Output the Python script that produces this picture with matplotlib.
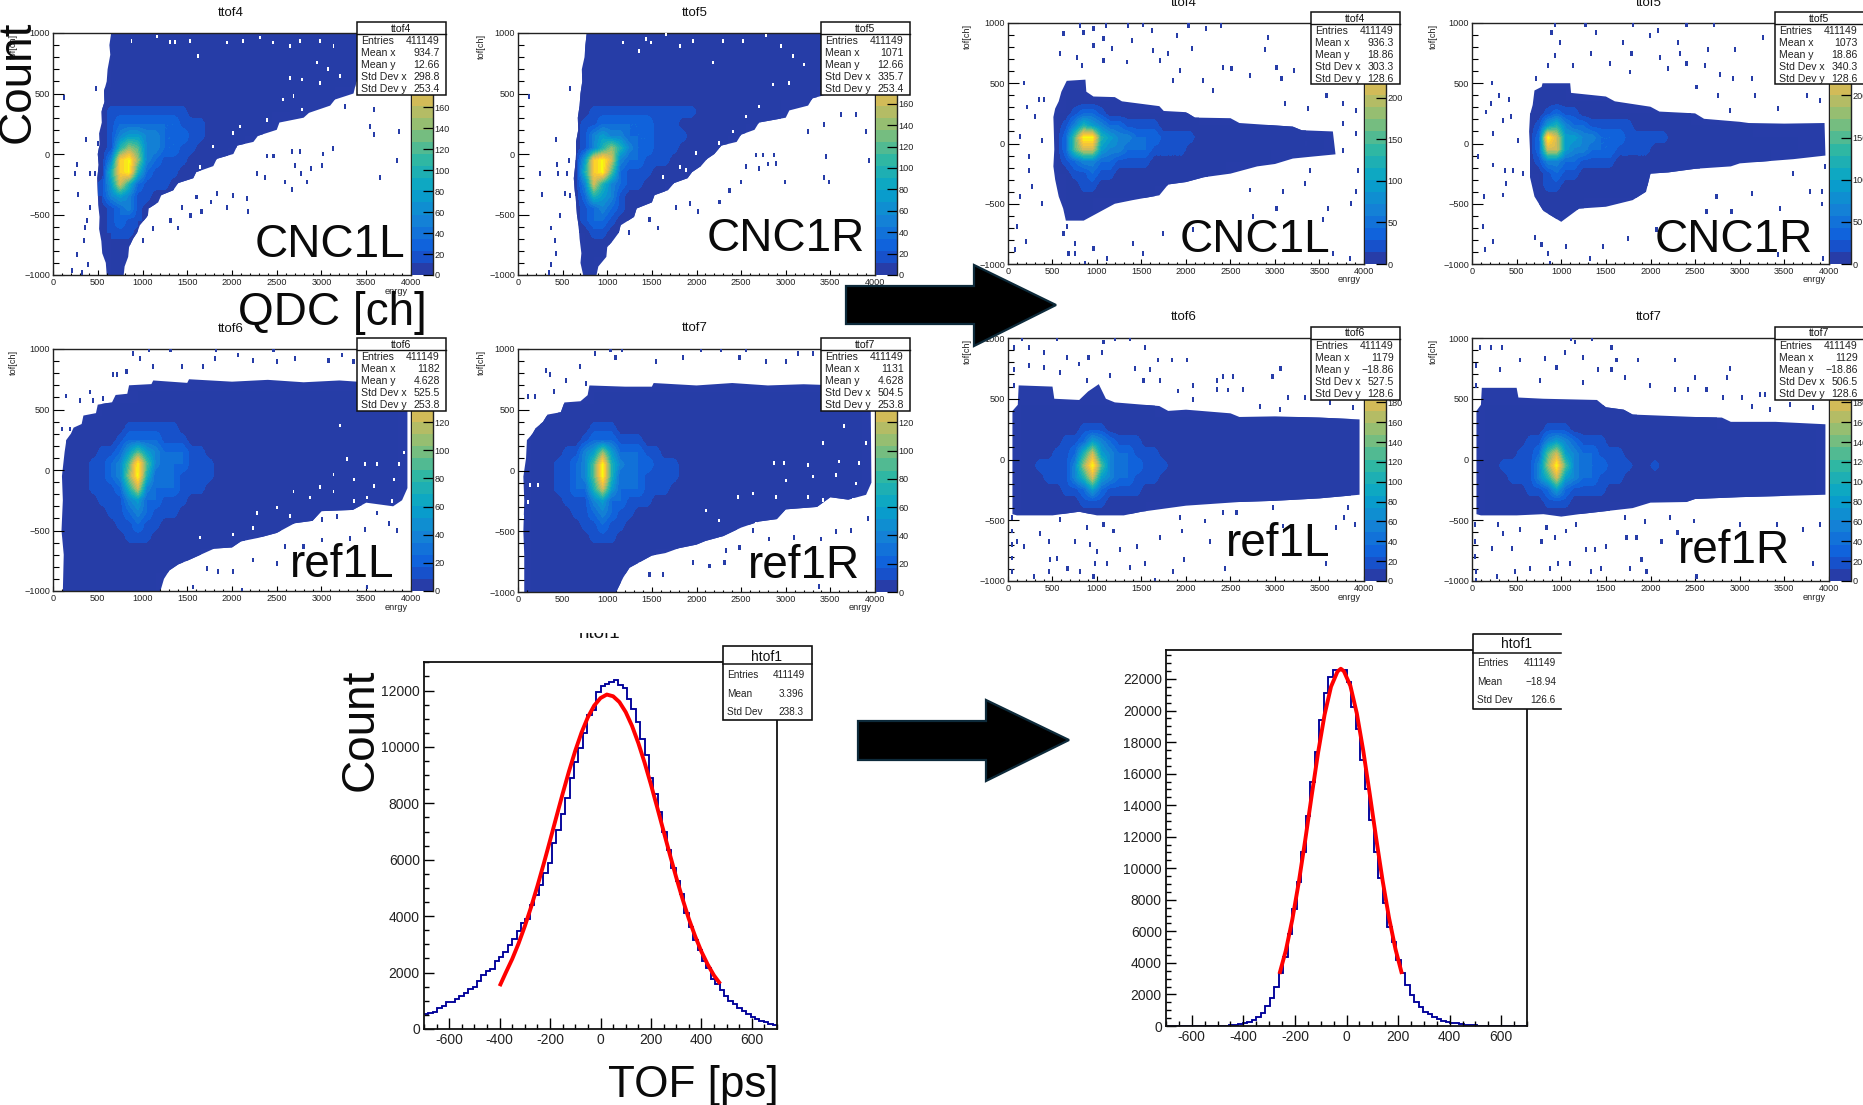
import numpy as np
import matplotlib
matplotlib.use("Agg")
import matplotlib.pyplot as plt
from matplotlib.colors import ListedColormap, BoundaryNorm, LinearSegmentedColormap
from matplotlib.patches import Rectangle, Polygon

plt.rcParams['font.family'] = ['Liberation Sans', 'DejaVu Sans']

W, H = 1863, 1105

# ---------- 2D histograms: coarse density read by eye, 100 ch x 100 ch cells, rows y=950..-950
# '.' empty, 0..9,a = rising colour level
TTOF4_L = """
......0000 0000000000 0000000000 00000.....
......0000 0000000000 0000000000 00000.....
......0000 0000000000 0000000000 0000000...
......0000 0000000000 0000000000 000000....
.....00000 0000000000 0000000000 00000.....
.....00000 0000000000 0000000000 00........
.....01111 1111100000 0000000... ..........
.....01222 2222111000 00000..... ..........
.....01344 3322211000 0000...... ..........
....001576 3322110000 00........ ..........
....0039a7 3211100000 .......... ..........
....0059a5 2111000... .......... ..........
....014852 1110000... .......... ..........
....013431 1000...... .......... ..........
.....01231 00........ .......... ..........
.....01211 0......... .......... ..........
.....01110 .......... .......... ..........
......0000 .......... .......... ..........
......00.. .......... .......... ..........
......00.. .......... .......... ..........
"""
TTOF5_L = """
.......000 0000000000 0000000000 00000.....
.......000 0000000000 0000000000 0000000...
.......000 0000000000 0000000000 000000....
......0000 0000000000 0000000000 0000000...
......0000 0000000000 0000000000 000000....
......0000 0000000000 0000000000 0000......
......0011 1111111111 0000000000 ..........
......0112 2222211100 0000000000 ..........
......0134 3322211110 000000.... ..........
......0135 7532211100 0000...... ..........
.....0049a 8322111000 000....... ..........
.....0059a 6211100000 0......... ..........
.....00385 3211000000 .......... ..........
.....00254 3100000... .......... ..........
......0123 2100000... .......... ..........
......0122 1000...... .......... ..........
......0011 00........ .......... ..........
.......000 0......... .......... ..........
.......000 .......... .......... ..........
.......00. .......... .......... ..........
"""
TTOF6_L = """
.......... .......... .......... ..........
.......... .......... .......... ..........
.......... .......... .......... ..........
.........0 0000000000 0000000000 000000000.
.....00000 0000000000 0000000000 000000000.
...0000000 0000000000 0000000000 000000000.
..00000011 1111000000 0000000000 000000000.
.000000122 2211100000 0000000000 000000000.
.000011246 4322211000 0000000000 000000000.
.00011236a 6322211100 0000000000 000000000.
.00011237a 5222111100 0000000000 000000000.
.000111258 3222111000 0000000000 000000000.
.000011134 2211100000 0000000000 000000000.
.000001123 2111000000 0000000000 00000.....
.000000112 1100000000 0000000000 00........
.000000011 1000000000 000000.... ..........
.000000000 0000000000 00........ ..........
.000000000 0000000... .......... ..........
.000000000 00000..... .......... ..........
.000000000 00........ .......... ..........
"""
TTOF7_L = """
.......... .......... .......... ..........
.......... .......... .......... ..........
.......... .......... .......... ..........
........00 0000000000 0000000000 000000000.
....000000 0000000000 0000000000 000000000.
..00000000 0000000000 0000000000 000000000.
.000000011 1000000000 0000000000 000000000.
.000000122 2111000000 0000000000 000000000.
.000011347 4222110000 0000000000 000000000.
.00011236a 5322211100 0000000000 000000000.
.00011236a 5222111100 0000000000 000000000.
.000112258 4222111000 0000000000 000000000.
.000011134 2211100000 0000000000 00000000..
.000001123 2110000000 0000000000 0000000...
.000000112 1100000000 0000000000 0.........
.000000011 1000000000 00000..... ..........
.000000000 0000000000 000....... ..........
.000000000 000000.... .......... ..........
.000000000 0000...... .......... ..........
.000000000 00........ .......... ..........
"""
TTOF4_R = """
.......... .......... .......... ..........
.......... .......... .......... ..........
.......... .......... .......... ..........
.......... .......... .......... ..........
.......... .......... .......... ..........
......000. .......... .......... ..........
......0000 00........ .......... ..........
.....00122 1000000000 00........ ..........
.....01354 3221111000 0000000000 0000......
.....026aa 5433222111 1000000000 000000....
.....02688 4332221111 0000000000 000000....
.....01233 2211110000 0000000000 ..........
.....00112 1100000000 00000..... ..........
......0011 0000000000 000....... ..........
......0000 0000000... .......... ..........
......0000 .......... .......... ..........
.......... .......... .......... ..........
.......... .......... .......... ..........
.......... .......... .......... ..........
.......... .......... .......... ..........
"""
TTOF5_R = """
.......... .......... .......... ..........
.......... .......... .......... ..........
.......... .......... .......... ..........
.......... .......... .......... ..........
.......... .......... .......... ..........
.......000 0......... .......... ..........
.......000 000000.... .......... ..........
......0012 1100000000 00000..... ..........
......0145 3221111100 0000000000 00........
......02a8 4433222111 1100000000 0000000...
......0288 4332221111 0000000000 00000000..
......0133 2211110000 0000000000 0000......
......0012 1100000000 000000.... ..........
.......011 0000000000 000....... ..........
.......000 0000000000 .......... ..........
.......000 000....... .......... ..........
........00 .......... .......... ..........
.......... .......... .......... ..........
.......... .......... .......... ..........
.......... .......... .......... ..........
"""
TTOF6_R = """
.......... .......... .......... ..........
.......... .......... .......... ..........
.......... .......... .......... ..........
.......... .......... .......... ..........
.......... .......... .......... ..........
.000000000 0000000... .......... ..........
.000000000 0000000000 0000000000 000000000.
.000000011 1000000000 0000000000 000000000.
.000001124 3211100000 0000000000 000000000.
.000011258 4322111000 0000000000 000000000.
.00111137a 6322211100 0000000000 000000000.
.000111358 4322111000 0000000000 000000000.
.000001124 2111100000 0000000000 000000000.
.000000011 1000000000 0000000000 000000000.
.000000000 000000.... .......... ..........
.......... .......... .......... ..........
.......... .......... .......... ..........
.......... .......... .......... ..........
.......... .......... .......... ..........
.......... .......... .......... ..........
"""
TTOF7_R = """
.......... .......... .......... ..........
.......... .......... .......... ..........
.......... .......... .......... ..........
.......... .......... .......... ..........
.......... .......... .......... ..........
.000000000 000000000. .......... ..........
.000000000 0000000000 00000000.. ..........
.000000011 1000000000 0000000000 000000000.
.000001134 3211100000 0000000000 000000000.
.000011268 4322111000 0000000000 000000000.
.00111137a 6322211100 1000000000 000000000.
.000111358 4322111000 0000000000 000000000.
.000001124 2111100000 0000000000 000000000.
.000000011 1000000000 0000000000 00000.....
.000000000 000000.... .......... ..........
.......... .......... .......... ..........
.......... .......... .......... ..........
.......... .......... .......... ..........
.......... .......... .......... ..........
.......... .......... .......... ..........
"""

# outline of the filled region (energy, tof)
P4_L = [(650,1000),(630,900),(640,820),(610,700),(600,600),(570,520),(575,430),(540,350),(545,260),(515,170),(520,80),(500,0),(510,-90),(495,-200),(500,-310),(505,-420),(520,-520),(515,-620),(540,-720),(550,-820),(590,-900),(600,-1000),(790,-1000),(800,-930),(840,-850),(850,-770),(895,-700),(940,-650),(970,-590),(1060,-510),(1070,-450),(1175,-400),(1210,-340),(1343,-300),(1400,-240),(1567,-200),(1600,-150),(1791,-100),(1830,-40),(2015,0),(2060,70),(2239,100),(2290,150),(2500,200),(2530,260),(2800,300),(2860,340),(3097,400),(3150,450),(3358,500),(3390,600),(3600,700),(3580,800),(3700,1000)]
P5_L = [(770,1000),(755,900),(745,800),(715,700),(720,600),(700,500),(690,400),(670,300),(675,200),(650,100),(650,0),(640,-100),(625,-200),(635,-300),(650,-400),(660,-500),(680,-600),(690,-700),(710,-820),(700,-900),(730,-1000),(880,-1000),(900,-930),(990,-850),(1000,-770),(1060,-720),(1130,-650),(1150,-590),(1300,-520),(1330,-450),(1500,-400),(1530,-340),(1680,-300),(1750,-240),(1900,-200),(1950,-150),(2050,-100),(2120,-40),(2200,0),(2280,70),(2450,100),(2500,160),(2650,200),(2700,260),(3000,300),(3040,360),(3250,400),(3300,460),(3500,500),(3560,600),(3700,650),(3720,800),(3800,1000)]
P6_L = [(110,-1000),(120,-700),(95,-500),(110,-250),(100,-50),(130,150),(150,250),(200,300),(230,350),(320,380),(340,450),(480,470),(500,540),(660,560),(700,620),(830,630),(850,700),(1100,710),(1120,740),(1500,720),(1520,750),(2000,730),(2400,745),(2800,725),(3200,740),(3600,720),(3960,700),(3960,-150),(3900,-250),(3800,-300),(3500,-270),(3350,-330),(3000,-340),(2900,-420),(2700,-440),(2500,-520),(2300,-560),(2100,-590),(2000,-640),(1800,-650),(1650,-700),(1500,-750),(1400,-780),(1300,-830),(1240,-900),(1200,-1000)]
P7_L = [(70,-1000),(70,-700),(60,-500),(70,-250),(60,-50),(90,100),(100,250),(160,300),(200,350),(280,400),(330,460),(480,480),(520,560),(700,570),(780,620),(800,700),(1200,690),(1500,690),(1520,720),(2000,700),(2400,720),(2800,700),(3200,710),(3600,700),(3950,690),(3960,-100),(3900,-200),(3700,-240),(3500,-220),(3350,-300),(3000,-320),(2900,-400),(2700,-420),(2500,-470),(2300,-540),(2100,-580),(2000,-610),(1800,-640),(1650,-680),(1500,-700),(1400,-740),(1250,-800),(1180,-880),(1100,-1000)]
P4_R = [(520,-50),(515,100),(510,220),(530,290),(570,350),(600,430),(660,520),(870,530),(880,430),(960,390),(1200,385),(1280,350),(1700,310),(1750,270),(2000,260),(2100,215),(2500,210),(2600,170),(3000,150),(3200,140),(3300,110),(3650,100),(3680,-90),(3400,-110),(3200,-125),(3000,-170),(2800,-190),(2500,-250),(2200,-280),(2000,-320),(1800,-340),(1700,-430),(1400,-470),(1200,-500),(1000,-580),(850,-640),(650,-640),(620,-540),(570,-440),(530,-300),(510,-190)]
P5_R = [(650,-60),(640,100),(650,240),(680,320),(700,440),(780,470),(790,500),(1100,500),(1110,420),(1500,390),(1600,350),(2000,305),(2100,265),(2500,250),(2600,205),(3000,180),(3100,170),(3500,165),(3950,170),(3960,-100),(3600,-130),(3000,-165),(2900,-190),(2500,-210),(2200,-240),(2000,-250),(1950,-400),(1800,-470),(1500,-525),(1200,-540),(1000,-650),(800,-560),(700,-440),(650,-280)]
P6_R = [(50,-450),(50,400),(110,450),(120,610),(500,600),(520,500),(800,490),(900,560),(1020,620),(1100,500),(1200,470),(1700,440),(1800,400),(2000,410),(2500,380),(2600,350),(3000,355),(3500,345),(3950,330),(3950,-290),(3500,-320),(3000,-340),(2600,-350),(2000,-380),(1800,-400),(1500,-430),(1300,-460),(1000,-460),(800,-430),(500,-460),(100,-460)]
P7_R = [(50,-450),(50,400),(100,450),(110,590),(500,590),(520,510),(800,500),(1400,490),(1500,430),(1700,410),(1800,370),(2500,350),(2800,345),(2900,310),(3400,310),(3960,290),(3960,-290),(3500,-300),(3000,-310),(2500,-325),(2400,-350),(2000,-355),(1800,-400),(1500,-425),(1200,-450),(1000,-470),(800,-450),(500,-460),(100,-460)]

# isolated filled bins (energy, tof)
SP4_L = [(485,540),(120,470),(373,122),(504,89),(272,-86),(242,-160),(410,-160),(466,-160),(280,-333),(418,-440),(380,-550),(354,-610),(343,-716),(272,-828),(216,-966),(392,-911),(328,-980),(3862,186),(3545,228),(3582,158),(3590,367),(3265,394),(3127,47),(3015,0),(3004,-92),(3843,-56),(3657,-194),(2880,-119),(2769,-161),(2836,-231),(2668,-294),(2593,-231),(2369,-194),(2183,-472),(1940,-439),(1761,-397),(1660,-472),(1537,-508),(1395,-611),(1313,-550),(2668,19),(2761,19),(2463,-17),(2388,-17),(2705,-92),(2276,-161),(2164,-369),(2015,-342),(1828,-328),(1604,-355),(1437,-439),(1119,-619),(1007,-716)]
SP5_L = [(586,539),(119,472),(429,122),(437,-86),(448,-161),(250,-161),(548,-161),(570,-56),(272,-333),(578,-342),(522,-328),(474,-508),(373,-611),(410,-717),(422,-822),(373,-911),(347,-980),(3899,186),(3929,-56),(3451,-22),(3433,-194),(3489,-231),(2996,-231),(2892,-78),(2799,-83),(2705,-119),(2556,-106),(2369,-300),(2500,-231),(2257,-397),(2015,-472),(1929,-411),(1772,-439),(1567,-611),(1243,-647),(1474,-544),(3787,325),(3619,325),(3433,242),(3246,186),(2873,-8),(2743,-8),(2668,-8)]
SP6_L = [(896,964),(970,922),(1071,992),(1313,992),(1821,992),(2463,992),(672,789),(716,789),(821,811),(1119,853),(1437,853),(1679,853),(1810,922),(2071,950),(2239,908),(2500,894),(2705,922),(3078,908),(3228,950),(3358,894),(410,644),(149,611),(298,575),(448,575),(560,589),(709,575),(104,339),(187,339),(3750,-439),(3489,-494),(3843,-500),(3321,-564),(3004,-578),(2799,-633),(2593,-633),(2500,-772),(2239,-744),(2015,-842),(1847,-842),(1716,-814),(1567,-967),(2108,-994),(3507,-967),(3004,-411),(3172,-383),(3619,-356)]
SP7_L = [(1037,992),(1164,992),(858,964),(1093,928),(2052,992),(2276,992),(2556,992),(3134,964),(3302,964),(1847,928),(1549,894),(2481,928),(2780,894),(3004,894),(317,825),(362,789),(690,853),(541,742),(399,650),(112,611),(187,611),(765,714),(3918,-397),(3731,-494),(3563,-500),(3396,-564),(3097,-550),(2817,-564),(2481,-633),(2313,-758),(2146,-786),(1959,-758),(1623,-856),(1474,-856),(3377,-953),(2631,-494),(2332,-661)]
SP4_R = [(811,978),(961,952),(1099,978),(1346,978),(1514,988),(2028,978),(2389,978),(624,916),(849,924),(1073,869),(1394,855),(1615,938),(1895,897),(2224,952),(2923,883),(2886,778),(587,745),(961,814),(1166,786),(1634,772),(1802,745),(2063,786),(774,717),(830,648),(1073,690),(1335,676),(1708,690),(1933,607),(2419,634),(2512,621),(2718,566),(3017,634),(3215,607),(3073,538),(176,502),(344,364),(400,364),(213,303),(2194,524),(2307,441),(1858,524),(3578,400),(3764,331),(3914,276),(3372,290),(3110,331),(101,-690),(82,-883),(202,-814),(138,-441),(269,-359),(232,-221),(381,-497),(662,-690),(624,-745),(755,-828),(680,-916),(755,-910),(867,-993),(961,-869),(1110,-952),(1409,-828),(1514,-910),(1746,-745),(2082,-717),(2381,-662),(2755,-607),(3017,-538),(3596,-538),(3540,-634),(3858,-497),(3914,-400),(3652,-910),(3839,-952),(3092,-400),(2718,-386),(3335,-331),(3931,-221),(3391,-221),(138,55),(232,-110),(307,221),(381,28),(3764,166),(3914,83),(3764,-55),(3615,28),(3540,-69),(3353,0)]
SP5_R = [(927,988),(890,924),(1271,988),(1394,924),(1806,988),(2086,938),(2404,988),(2710,988),(3264,883),(983,841),(1693,841),(1993,897),(2310,841),(2647,778),(2946,778),(927,731),(1338,745),(1787,745),(2108,717),(2329,745),(852,648),(1133,648),(1544,662),(1768,593),(2198,621),(2404,662),(2609,648),(2778,574),(2927,538),(3133,538),(224,502),(721,538),(303,400),(415,364),(217,331),(2516,469),(2759,400),(3170,400),(3750,400),(3899,359),(3432,290),(2890,276),(135,-441),(348,-428),(385,-331),(236,-179),(366,-221),(460,-221),(572,-248),(67,-110),(236,83),(348,193),(161,262),(441,221),(516,28),(123,-690),(236,-814),(150,-883),(703,-778),(778,-841),(852,-910),(871,-993),(1058,-855),(1469,-855),(1320,-952),(1750,-786),(2067,-717),(2628,-566),(2908,-566),(3449,-538),(3787,-400),(3918,-400),(3918,-502),(3432,-924),(3937,-952),(3133,-414),(2740,-441),(3600,-248),(3955,-193)]
SP6_R = [(157,994),(550,994),(1204,994),(1372,994),(64,925),(232,925),(1073,967),(1540,925),(400,883),(662,842),(905,842),(1054,883),(1690,819),(1839,819),(2007,819),(1428,750),(793,786),(232,772),(400,758),(587,717),(1148,689),(1596,744),(2419,681),(2524,681),(2972,681),(3062,750),(2344,647),(2082,611),(1708,647),(886,647),(1522,647),(64,744),(64,606),(1914,564),(2475,572),(2643,578),(2344,578),(2082,494),(3148,508),(3335,508),(2830,439),(3615,467),(3877,425),(3054,411),(45,-478),(45,-589),(45,-700),(45,-811),(45,-922),(101,-672),(176,-714),(363,-611),(456,-678),(587,-492),(755,-678),(923,-700),(1073,-533),(1185,-589),(886,-561),(998,-756),(1260,-742),(1447,-714),(475,-825),(550,-817),(669,-894),(811,-922),(979,-853),(1110,-853),(1372,-889),(1540,-853),(1858,-922),(1708,-644),(1952,-589),(1933,-478),(2213,-506),(2419,-436),(2568,-436),(2980,-394),(3690,-561),(3895,-533),(3780,-478),(3821,-394),(3092,-547),(2269,-678),(1978,-825),(2438,-894),(3570,-853),(288,-964),(456,-922),(961,-964),(1652,-992)]
SP7_R = [(1114,994),(1346,994),(1563,925),(1151,967),(86,925),(217,925),(340,925),(1619,819),(1862,819),(2273,819),(1039,883),(535,819),(815,828),(1245,842),(1413,744),(1563,744),(1712,675),(2497,675),(2860,675),(2890,750),(946,758),(759,647),(1245,633),(1993,611),(2273,578),(2422,578),(2628,578),(3226,536),(3282,536),(2815,508),(3021,508),(3133,439),(3563,453),(3824,425),(3338,411),(310,744),(49,606),(49,772),(30,-533),(30,-672),(30,-797),(49,-922),(49,-992),(224,-733),(348,-611),(452,-733),(292,-533),(535,-575),(778,-672),(834,-561),(927,-644),(1058,-589),(1170,-533),(1282,-742),(1376,-742),(1499,-714),(1731,-644),(1843,-644),(1936,-511),(1712,-478),(2217,-478),(2490,-506),(3002,-533),(3413,-533),(3712,-575),(3899,-533),(2303,-603),(2123,-672),(1899,-825),(1768,-894),(1955,-922),(1450,-894),(1338,-922),(1095,-853),(965,-853),(871,-894),(654,-894),(479,-922),(280,-964),(2516,-964),(3824,-853)]

# empty bins inside the filled region (energy, tof)
HL4_L = [(1306,928),(1362,928),(1157,972),(877,936),(1623,811),(1530,936),(1940,922),(2127,936),(2313,964),(2463,922),(2649,894),(2761,936),(2985,936),(3134,894),(2948,755),(3078,700),(3209,644),(2985,589),(2780,617),(2649,630),(2687,478),(2780,367),(2575,450),(2388,283),(2090,228),(2015,172),(1791,61),(1642,-106)]
HL5_L = [(1437,950),(1493,922),(1175,922),(1355,853),(1660,992),(1810,894),(1960,936),(2183,755),(2295,936),(2519,936),(2780,978),(2948,894),(3078,811),(3209,741),(3041,589),(2854,575),(2705,394),(2556,311),(2407,186),(2257,89),(1996,6),(1810,-106),(1884,-133),(1623,-189)]
HL6_L = [(3284,89),(3489,50),(3134,-36),(3619,50),(3862,50),(3358,-78),(3582,-133),(3806,-78),(3134,-178),(2687,-178),(2873,-228),(3358,-256),(3507,-228),(3787,-256),(2985,-139),(2276,-356),(2500,-311),(3209,367),(1642,-558),(3918,144),(2015,-533),(2239,-478),(2649,-378)]
HL7_L = [(3657,367),(3414,228),(3246,47),(2985,61),(2873,61),(3601,75),(3825,61),(3899,228),(3302,-50),(3563,-36),(3004,-83),(3787,-106),(2463,-217),(2631,-189),(2892,-217),(3246,-217),(3414,-244),(3750,-244),(3918,-203),(2108,-328),(2257,-411),(2668,-439),(131,-119),(224,-119),(112,-258),(56,-383)]

# ---------- 1D histograms
BIN_EDGES = np.linspace(-700, 700, 81)
HTOF_L = [520,560,620,730,800,950,960,1080,1170,1260,1430,1500,1710,1930,2070,2130,2400,2550,2720,2970,
          3190,3470,3750,3900,4390,4740,5100,5540,5900,6600,7050,7640,8200,8900,9470,9950,10500,11150,11300,11950,
          12150,12250,12320,12380,12200,12100,11700,11350,10880,10300,9700,8900,8350,7680,7000,6350,5700,5250,4770,4100,
          3600,3170,2810,2420,2180,1780,1600,1370,1170,1000,870,740,640,540,430,370,300,240,190,140]
HTOF_R = [0,0,0,0,0,0,0,0,0,0,5,10,15,25,35,60,110,170,260,400,
          560,800,1250,1800,2450,3350,4400,5850,7400,9150,11000,13300,15450,17400,19400,21100,22150,22550,22600,22550,
          21800,20200,18850,16850,15000,13050,11000,9400,7800,6300,5300,4200,3350,2600,1950,1500,1200,900,730,560,
          440,340,260,200,160,110,90,60,45,30,20,15,10,8,5,4,2,1,1,0]
FIT_L_X = [-400,-375,-350,-325,-300,-275,-250,-225,-200,-175,-150,-125,-100,-75,-50,-25,0,25,50,75,100,125,150,175,200,225,250,275,300,325,350,375,400,425,450,475]
FIT_L_Y = [1520,2010,2485,3032,3649,4332,5075,5865,6687,7521,8347,9138,9870,10518,11057,11469,11735,11860,11799,11593,11238,10748,10141,9440,8669,7854,7020,6190,5386,4623,3915,3300,2750,2290,1900,1600]
FIT_R_X = [-260,-235,-210,-185,-160,-135,-110,-85,-60,-35,-22,-10,15,40,65,90,115,140,165,190,215]
FIT_R_Y = [3300,4800,6760,9121,11793,14613,17348,19737,21513,22470,22650,22490,21567,19820,17452,14725,11905,9221,6848,4870,3300]

CHAR_LEVEL = {'0':.02,'1':.08,'2':.15,'3':.24,'4':.33,'5':.43,'6':.53,'7':.63,'8':.73,'9':.85,'a':.97}

# ROOT kBird palette, 20 contour bands
_r=[0.2082,0.0592,0.0780,0.0232,0.1802,0.5301,0.8186,0.9956,0.9764]
_g=[0.1664,0.3599,0.5041,0.6419,0.7178,0.7492,0.7328,0.7862,0.9832]
_b=[0.5293,0.8684,0.8385,0.7914,0.6425,0.4662,0.3499,0.1968,0.0539]
_bird = LinearSegmentedColormap.from_list('bird', list(zip(_r,_g,_b)))
BAND = ListedColormap([_bird((i+1)/20) for i in range(20)])
SPECK = _bird(0.05)

fig = plt.figure(figsize=(W/100, H/100), dpi=100, facecolor='white')
def axpx(l, t, r, b, **kw):
    return fig.add_axes([l/W, 1-b/H, (r-l)/W, (b-t)/H], **kw)

ov = fig.add_axes([0,0,1,1], zorder=50)
ov.set_xlim(0,W); ov.set_ylim(H,0); ov.axis('off'); ov.patch.set_alpha(0)

TXT = '#222222'
def panel2d(name, rows, outline, speckle, holes, zmax, zticks, box, cbx, stats, sbox, ttl, ylx):
    l,t,r,b = box
    ax = axpx(l,t,r,b)
    lines=[s.replace(' ','') for s in rows.strip().splitlines()]
    arr=np.zeros((20,40)); mask=np.ones((20,40),bool)
    for i,s in enumerate(lines):
        for j,c in enumerate(s):
            if c!='.':
                arr[i,j]=CHAR_LEVEL[c]*zmax; mask[i,j]=False
    levels=np.linspace(0,zmax,21)
    norm=BoundaryNorm(levels,20)
    region=Polygon(outline,closed=True,fc=SPECK,ec='none',zorder=1)
    ax.add_patch(region)
    im=ax.imshow(np.ma.array(arr,mask=mask),extent=(0,4000,-1000,1000),aspect='auto',origin='upper',
              cmap=BAND,norm=norm,interpolation='bilinear',interpolation_stage='data',zorder=2)
    im.set_clip_path(region)
    sx=[p[0] for p in speckle]; sy=[p[1] for p in speckle]
    ax.bar(sx,40,width=24,bottom=[y-20 for y in sy],color=SPECK,linewidth=0,zorder=3)
    if holes:
        hx=[p[0] for p in holes]; hy=[p[1] for p in holes]
        ax.bar(hx,30,width=22,bottom=[y-15 for y in hy],color='white',linewidth=0,zorder=3)
    ax.set_xlim(0,4000); ax.set_ylim(-1000,1000)
    ax.set_xticks(np.arange(0,4001,500)); ax.set_xticks(np.arange(0,4001,100),minor=True)
    ax.set_yticks(np.arange(-1000,1001,500)); ax.set_yticks(np.arange(-1000,1001,100),minor=True)
    ax.tick_params(axis='x',which='major',direction='in',length=3.6,width=.8,labelsize=6.6,pad=2.5,top=False,labelcolor=TXT)
    ax.tick_params(axis='x',which='minor',direction='in',length=1.8,width=.8,top=False)
    ax.tick_params(axis='y',which='major',direction='in',length=8,width=.8,labelsize=6.6,pad=2,right=False,labelcolor=TXT)
    ax.tick_params(axis='y',which='minor',direction='in',length=4,width=.8,right=False)
    for s in ax.spines.values(): s.set_linewidth(1.0); s.set_color('#222222')
    # colour bar
    cax=axpx(cbx,t,cbx+21,b)
    cax.pcolormesh([0,1],levels,(levels[:-1]+levels[1:]).reshape(-1,1)/2,cmap=BAND,norm=norm)
    cax.set_xticks([]); cax.yaxis.tick_right()
    cax.set_ylim(0,zmax); cax.set_yticks(zticks); cax.set_yticklabels([str(v) for v in zticks])
    cax.tick_params(axis='y',direction='in',length=7.5,width=.9,labelsize=6.6,pad=1,labelcolor=TXT)
    for k,s in cax.spines.items():
        s.set_visible(k=='right'); s.set_linewidth(1.0); s.set_color('#222222')
    # labels
    ov.text(ttl[0],ttl[1],name,ha='center',va='center',fontsize=9.5,color='#111111',zorder=3)
    ov.text(r-3,b+16,'enrgy',ha='right',va='center',fontsize=6.6,color=TXT,zorder=3)
    ov.text(ylx,t+1,'tof[ch]',rotation=90,ha='center',va='top',fontsize=6.6,color=TXT,zorder=3)
    # stats box
    sl,st,sr,sb=sbox
    ov.add_patch(Rectangle((sl,st),sr-sl,sb-st,fc='white',ec='#111111',lw=1.1,zorder=4))
    ov.plot([sl,sr],[st+12,st+12],color='#111111',lw=1.0,zorder=5)
    ov.text((sl+sr)/2,st+6.5,name,ha='center',va='center',fontsize=7.6,color='#111111',zorder=6)
    for i,(k,v) in enumerate(stats):
        y=st+19+12*i
        ov.text(sl+4,y,k,ha='left',va='center',fontsize=7.6,color=TXT,zorder=6)
        ov.text(sr-6,y,v,ha='right',va='center',fontsize=7.6,color=TXT,zorder=6)

SK=['Entries','Mean x','Mean y','Std Dev x','Std Dev y']
def ST(*v): return list(zip(SK,v))
T160=list(range(0,161,20)); T120=list(range(0,121,20)); T200=[0,50,100,150,200]; T180=list(range(0,181,20))
panel2d('ttof4',TTOF4_L,P4_L,SP4_L,HL4_L,231,T160,(53,33,411,275),412,ST('411149','934.7','12.66','298.8','253.4'),(357,22,446,95),(231,13),13)
panel2d('ttof5',TTOF5_L,P5_L,SP5_L,HL5_L,226,T160,(518,33,875,275),876,ST('411149','1071','12.66','335.7','253.4'),(821,22,910,95),(695,13),481)
panel2d('ttof6',TTOF6_L,P6_L,SP6_L,HL6_L,172,T120,(53,349,411,591),412,ST('411149','1182','4.628','525.5','253.8'),(357,338,446,411),(231,329),13)
panel2d('ttof7',TTOF7_L,P7_L,SP7_L,HL7_L,172,T120,(518,349,875,592),876,ST('411149','1131','4.628','504.5','253.8'),(821,338,910,411),(695,328),481)
panel2d('ttof4',TTOF4_R,P4_R,SP4_R,None,290,T200,(1008,23,1364,264),1365,ST('411149','936.3','18.86','303.3','128.6'),(1311,12,1400,84),(1184,3),967)
panel2d('ttof5',TTOF5_R,P5_R,SP5_R,None,286,T200,(1472,23,1829,264),1830,ST('411149','1073','18.86','340.3','128.6'),(1775,12,1864,84),(1649,3),1433)
panel2d('ttof6',TTOF6_R,P6_R,SP6_R,None,245,T180,(1008,338,1364,581),1365,ST('411149','1179','\u221218.86','527.5','128.6'),(1311,327,1400,400),(1184,317),967)
panel2d('ttof7',TTOF7_R,P7_R,SP7_R,None,245,T180,(1472,338,1829,581),1830,ST('411149','1129','\u221218.86','506.5','128.6'),(1775,327,1864,400),(1649,317),1433)

def panel1d(values, fx, fy, box, ymax):
    ax=axpx(*box)
    ax.stairs(values,BIN_EDGES,color='#000099',lw=1.35,baseline=None)
    ax.plot(fx,fy,color='#ff0000',lw=2.8,solid_capstyle='butt')
    ax.set_xlim(-700,700); ax.set_ylim(0,ymax)
    xt=np.arange(-600,601,200)
    ax.set_xticks(xt); ax.set_xticklabels([str(v) for v in xt])
    ax.set_xticks(np.arange(-700,701,50),minor=True)
    ax.set_yticks(np.arange(0,ymax,2000)); ax.set_yticks(np.arange(0,ymax,500),minor=True)
    ax.tick_params(axis='x',which='major',direction='in',length=8,width=1,labelsize=10,pad=3,top=False,labelcolor=TXT)
    ax.tick_params(axis='x',which='minor',direction='in',length=3.6,width=1,top=False)
    ax.tick_params(axis='y',which='major',direction='in',length=7.5,width=1,labelsize=10,pad=3,right=False,labelcolor=TXT)
    ax.tick_params(axis='y',which='minor',direction='in',length=3.6,width=1,right=False)
    for s in ax.spines.values(): s.set_linewidth(1.3); s.set_color('#111111')
    return ax
panel1d(HTOF_L,FIT_L_X,FIT_L_Y,(424,662,777,1029),13014)
panel1d(HTOF_R,FIT_R_X,FIT_R_Y,(1166,650,1527,1026),23838)

# 1D stats boxes
ov.add_patch(Rectangle((723,646),89,74,fc='white',ec='#111111',lw=1.2,zorder=4))
ov.plot([723,812],[664,664],color='#111111',lw=1.1,zorder=5)
ov.text(766,657,'htof1',ha='center',va='center',fontsize=10,color='#111111',zorder=6)
for y,k,v in [(675,'Entries','411149'),(694,'Mean','3.396'),(712,'Std Dev','238.3')]:
    ov.text(727,y,k,ha='left',va='center',fontsize=7.2,color=TXT,zorder=6)
    ov.text(805 if k=='Entries' else 804,y,v,ha='right',va='center',fontsize=7.2,color=TXT,zorder=6)
ov.add_patch(Rectangle((1473,634),88,75,fc='white',ec='none',zorder=4))
ov.plot([1561,1473,1473,1561],[634,634,709,709],color='#111111',lw=1.2,zorder=5)
ov.plot([1473,1561],[653,653],color='#111111',lw=1.1,zorder=5)
ov.text(1516,644,'htof1',ha='center',va='center',fontsize=10,color='#111111',zorder=6)
for y,k,v in [(663,'Entries','411149'),(682,'Mean','\u221218.94'),(700,'Std Dev','126.6')]:
    ov.text(1477,y,k,ha='left',va='center',fontsize=7.2,color=TXT,zorder=6)
    ov.text(1556,y,v,ha='right',va='center',fontsize=7.2,color=TXT,zorder=6)
clip=ov.text(600,638,'htof1',ha='center',va='baseline',fontsize=13.5,color='#111111',zorder=3)
clip.set_clip_path(Rectangle((500,633),200,8,transform=ov.transData))
clip.set_clip_on(True)

# arrows
AC='#0d2a3a'
ov.add_patch(Polygon([(846,286),(974,286),(974,265),(1056,305),(974,346),(974,324),(846,324)],closed=True,fc='black',ec=AC,lw=1.6,zorder=20))
ov.add_patch(Polygon([(858,721),(986,721),(986,700),(1069,740),(986,781),(986,760),(858,760)],closed=True,fc='black',ec=AC,lw=1.6,zorder=20))

# big labels
BIG=dict(fontsize=33,color='#0a0a0a',zorder=30)
ov.text(18,82,'Count',rotation=90,ha='center',va='center',**BIG)
ov.text(238,325,'QDC [ch]',ha='left',va='baseline',**BIG)
ov.text(255,257,'CNC1L',ha='left',va='baseline',**BIG)
ov.text(707,251,'CNC1R',ha='left',va='baseline',**BIG)
ov.text(290,577,'ref1L',ha='left',va='baseline',**BIG)
ov.text(748,578,'ref1R',ha='left',va='baseline',**BIG)
ov.text(1180,252,'CNC1L',ha='left',va='baseline',**BIG)
ov.text(1655,252,'CNC1R',ha='left',va='baseline',**BIG)
ov.text(1226,556,'ref1L',ha='left',va='baseline',**BIG)
ov.text(1678,563,'ref1R',ha='left',va='baseline',**BIG)
ov.text(361,730,'Count',rotation=90,ha='center',va='center',**BIG)
ov.text(608,1097,'TOF [ps]',ha='left',va='baseline',fontsize=31.7,color='#0a0a0a',zorder=30)

fig.savefig('out.png',dpi=100)
